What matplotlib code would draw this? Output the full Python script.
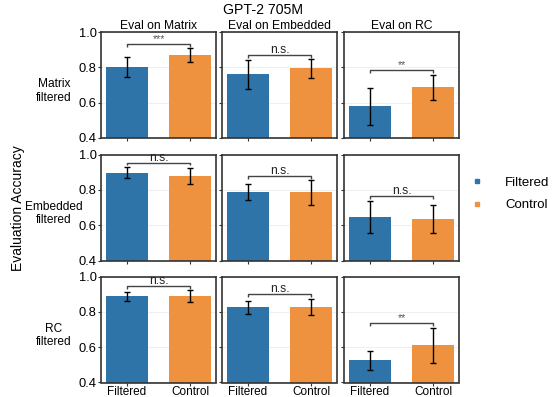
import matplotlib
matplotlib.use("Agg")
import matplotlib.pyplot as plt
from matplotlib.lines import Line2D

plt.rcParams['font.family'] = ['Liberation Sans', 'DejaVu Sans']

groups = ["Filtered", "Control"]
col_titles = ["Eval on Matrix", "Eval on Embedded", "Eval on RC"]
row_labels = ["Matrix\nfiltered", "Embedded\nfiltered", "RC\nfiltered"]
title = "GPT-2 705M"
ylabel = "Evaluation Accuracy"
yticks = [0.4, 0.6, 0.8, 1.0]

# mean values [row][col] = (filtered, control)
means = [
    [(0.800, 0.870), (0.762, 0.796), (0.580, 0.689)],
    [(0.898, 0.878), (0.787, 0.787), (0.646, 0.635)],
    [(0.888, 0.888), (0.826, 0.826), (0.526, 0.611)],
]
# error bar lower / upper ends
err_lo = [
    [(0.744, 0.829), (0.677, 0.741), (0.474, 0.617)],
    [(0.866, 0.833), (0.744, 0.714), (0.556, 0.555)],
    [(0.864, 0.856), (0.789, 0.781), (0.468, 0.513)],
]
err_hi = [
    [(0.857, 0.908), (0.840, 0.845), (0.681, 0.758)],
    [(0.927, 0.921), (0.831, 0.853), (0.738, 0.712)],
    [(0.913, 0.921), (0.864, 0.875), (0.581, 0.707)],
]
sig_labels = [
    ["***", "n.s.", "**"],
    ["n.s.", "n.s.", "n.s."],
    ["n.s.", "n.s.", "**"],
]
bracket_y = [
    [0.930, 0.870, 0.783],
    [0.953, 0.879, 0.763],
    [0.945, 0.900, 0.734],
]

colors = ["#2E74A8", "#EE9240"]

W, H = 552, 397
fig = plt.figure(figsize=(W / 100, H / 100), dpi=100)

lefts = [101, 222, 344]
tops = [32, 154.5, 276.5]
aw, ah = 115, 106

for r in range(3):
    for c in range(3):
        ax = fig.add_axes([lefts[c] / W, 1 - (tops[r] + ah) / H, aw / W, ah / H])
        x = [0, 1]
        fil, con = means[r][c]
        vals = [fil, con]
        lo = err_lo[r][c]
        hi = err_hi[r][c]
        yerr = [[vals[i] - lo[i] for i in range(2)], [hi[i] - vals[i] for i in range(2)]]
        ax.bar(x, vals, width=0.67, color=colors, zorder=2)
        ax.errorbar(x, vals, yerr=yerr, fmt='none', ecolor='black', elinewidth=1.0,
                    capsize=2.2, capthick=1.0, zorder=3)
        ax.set_xlim(-0.41, 1.41)
        ax.set_ylim(0.4, 1.0)
        ax.set_yticks(yticks)
        ax.set_xticks(x)
        ax.grid(axis='y', color='#f0f0f0', linewidth=0.8, zorder=0)
        ax.set_axisbelow(True)
        for s in ax.spines.values():
            s.set_color('#333333')
            s.set_linewidth(1.2)
        ax.tick_params(axis='both', length=2, width=0.8, color='#333333',
                       labelsize=9.3, pad=1.0)
        ax.tick_params(axis='x', pad=0.5)
        if c == 0:
            ax.set_yticklabels([f"{t:.1f}" for t in yticks])
        else:
            ax.set_yticklabels([])
        if r == 2:
            ax.set_xticklabels(groups, fontsize=8.5)
        else:
            ax.set_xticklabels([])
        if r == 0:
            ax.set_title(col_titles[c], fontsize=8.7, pad=2)
        # significance bracket
        by = bracket_y[r][c]
        tick = 0.015
        ax.plot([0, 0, 1, 1], [by - tick, by, by, by - tick], color='#444444',
                lw=1.0, zorder=4, solid_capstyle='butt')
        lab = sig_labels[r][c]
        if lab == "n.s.":
            ax.text(0.5, by - 0.006, lab, ha='center', va='bottom', fontsize=8.7,
                    color='#222222')
        else:
            ax.text(0.5, by + 0.004, lab, ha='center', va='bottom', fontsize=7.5,
                    color='#555555')

    # row label
    yc = 1 - (tops[r] + ah / 2 + 6) / H
    fig.text(54 / W, yc, row_labels[r], ha='center', va='center', fontsize=8.6,
             linespacing=1.15)

fig.text(263 / W, 1 - 10 / H, title, ha='center', va='center', fontsize=10.2)
fig.text(18 / W, 1 - 208 / H, ylabel, ha='center', va='center', rotation=90,
         fontsize=10)

handles = [Line2D([], [], marker='s', linestyle='none', markersize=3.2,
                  markerfacecolor=colors[i], markeredgecolor=colors[i]) for i in range(2)]
fig.legend(handles, groups, loc='center left', bbox_to_anchor=(459 / W, 1 - 194 / H),
           frameon=False, fontsize=9.5, handletextpad=1.6, labelspacing=0.75,
           handlelength=1.0)

fig.savefig("out.png", dpi=100)
